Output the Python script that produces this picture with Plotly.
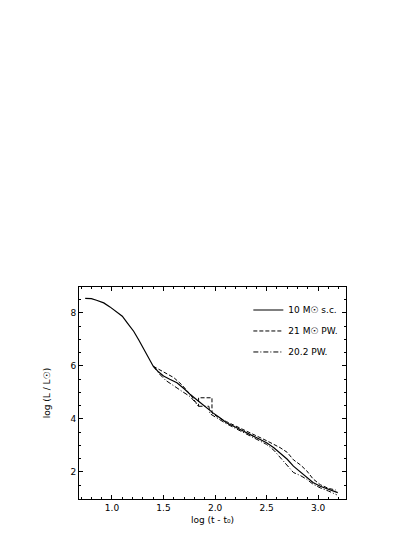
import plotly.graph_objects as go

# solid model
x_sc = [0.74, 0.80, 0.85, 0.92, 0.98, 1.04, 1.10, 1.15, 1.21, 1.26, 1.30, 1.35, 1.40, 1.45, 1.50,
        1.56, 1.63, 1.70, 1.76, 1.84, 1.91, 1.98, 2.05, 2.11, 2.21, 2.31, 2.40, 2.50, 2.57, 2.63,
        2.70, 2.76, 2.83, 2.89, 2.95, 3.02, 3.08, 3.15, 3.19]
y_sc = [8.55, 8.54, 8.48, 8.38, 8.23, 8.07, 7.88, 7.62, 7.31, 6.98, 6.69, 6.33, 5.99, 5.78, 5.62,
        5.50, 5.37, 5.14, 4.92, 4.67, 4.44, 4.23, 4.04, 3.86, 3.67, 3.48, 3.30, 3.10, 2.91, 2.72,
        2.48, 2.22, 1.99, 1.78, 1.60, 1.46, 1.37, 1.28, 1.22]

# dashed model
x_pw1 = [1.40, 1.46, 1.52, 1.60, 1.68, 1.76, 1.84, 1.84, 1.90, 1.97, 1.97, 2.03, 2.11, 2.21, 2.31,
         2.40, 2.50, 2.57, 2.63, 2.70, 2.76, 2.83, 2.89, 2.95, 3.02, 3.10, 3.17]
y_pw1 = [5.99, 5.86, 5.74, 5.56, 5.28, 4.92, 4.48, 4.80, 4.80, 4.80, 4.23, 4.06, 3.90, 3.72, 3.54,
         3.37, 3.18, 3.04, 2.92, 2.74, 2.46, 2.26, 2.04, 1.74, 1.52, 1.38, 1.32]

# dash-dot model
x_pw2 = [1.40, 1.46, 1.52, 1.60, 1.68, 1.76, 1.84, 1.90, 1.94, 1.95, 2.03, 2.11, 2.21, 2.31,
         2.40, 2.50, 2.57, 2.63, 2.70, 2.76, 2.83, 2.89, 2.95, 3.02, 3.10, 3.18]
y_pw2 = [5.99, 5.70, 5.46, 5.24, 5.04, 4.84, 4.48, 4.48, 4.48, 4.20, 4.00, 3.82, 3.62, 3.43,
         3.24, 3.04, 2.82, 2.56, 2.22, 1.98, 1.86, 1.72, 1.54, 1.40, 1.28, 1.14]

names = ["10 M\u2609 s.c.", "21 M\u2609 PW.", "20.2 PW."]

x_ticks = [1.0, 1.5, 2.0, 2.5, 3.0]
x_ticktext = ["1.0", "1.5", "2.0", "2.5", "3.0"]
y_ticks = [2, 4, 6, 8]

font = "DejaVu Sans"
fig = go.Figure()
fig.add_trace(go.Scatter(x=x_sc, y=y_sc, mode="lines", name=names[0], legendgroup="a",
                         line=dict(color="black", width=1.2)))
fig.add_trace(go.Scatter(x=x_pw1, y=y_pw1, mode="lines", name=names[1], legendgroup="b",
                         line=dict(color="black", width=1, dash="4px,2px")))
fig.add_trace(go.Scatter(x=x_pw2, y=y_pw2, mode="lines", name=names[2], legendgroup="c",
                         line=dict(color="black", width=1, dash="5px,2px,1px,2px")))

axis_common = dict(
    showgrid=False, zeroline=False, showline=True, linecolor="black", linewidth=1,
    mirror="ticks", ticks="inside", ticklen=4, tickcolor="black",
    tickfont=dict(family=font, size=9, color="black"),
)
fig.update_xaxes(range=[0.68, 3.27], tickvals=x_ticks, ticktext=x_ticktext,
                 minor=dict(dtick=0.1, ticks="inside", ticklen=2, tickcolor="black"),
                 title=dict(text="log (t - t\u2080)", font=dict(family=font, size=9, color="black"),
                            standoff=4),
                 **axis_common)
fig.update_yaxes(range=[0.98, 8.98], tickvals=y_ticks,
                 minor=dict(dtick=0.5, ticks="inside", ticklen=2, tickcolor="black"),
                 title=dict(text="log (L / L\u2609)", font=dict(family=font, size=9, color="black"),
                            standoff=18),
                 **axis_common)

fig.update_layout(
    width=415, height=538,
    margin=dict(l=71, r=77, t=279, b=47),
    paper_bgcolor="white", plot_bgcolor="white",
    legend=dict(x=0.99, y=0.96, xanchor="right", yanchor="top", bgcolor="rgba(0,0,0,0)",
                font=dict(family=font, size=9, color="black"), tracegroupgap=2, itemwidth=30),
    showlegend=True,
)

fig.write_html("out.html")
